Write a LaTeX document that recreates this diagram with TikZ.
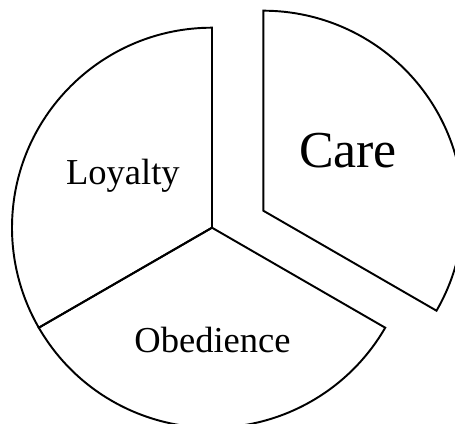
\documentclass[tikz,border=0pt]{standalone}
\usepackage{fontspec}
\setmainfont{Liberation Serif}

\begin{document}
\begin{tikzpicture}[line width=1.1pt,every node/.style={font=\fontsize{20.8}{25}\selectfont}]
    % frame of the picture
    \clip (0,0) rectangle (9.1,8.46);
    % pie centre and the centre of the pulled-out slice
    \coordinate (o) at (4.24,3.906);
    \coordinate (c) at (5.266,4.246);
    % loyalty and obedience
    \draw (o) -- ++(90:4) arc[start angle=90,end angle=210,radius=4] -- cycle;
    \draw (o) -- ++(210:4) arc[start angle=210,end angle=330,radius=4] -- cycle;
    % care, moved out of the pie
    \draw (c) -- ++(-30:4) arc[start angle=-30,end angle=90,radius=4] -- cycle;
    % labels
    \node[anchor=base] (loyalty) at (2.457,4.76) {Loyalty};
    \node[anchor=base] (obedience) at (4.25,1.413) {Obedience};
    \node[anchor=base,font=\fontsize{29.5}{35}\selectfont] (care) at (6.96,5.106) {Care};
  \end{tikzpicture}
\end{document}
